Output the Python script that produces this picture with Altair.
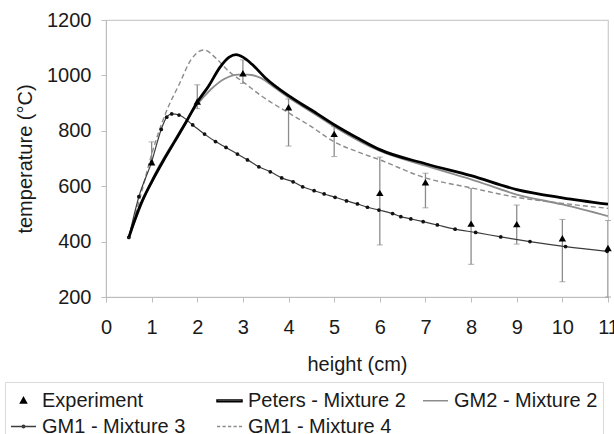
import altair as alt
import pandas as pd

FONT = "Liberation Sans"

# ---- data ----
exp_x = [1, 2, 3, 4, 5, 6, 7, 8, 9, 10, 11]
exp_y = [686, 906, 1008, 885, 789, 576, 614, 465, 463, 412, 377]
exp_hi = [760, 966, 1056, 915, 815, 705, 647, 592, 532, 480, 476]
exp_lo = [680, 880, 971, 745, 707, 388, 522, 318, 391, 255, 200]

peters_x = [0.5, 0.75, 1.0, 1.25, 1.5, 1.75, 2.0, 2.25, 2.5, 2.7, 2.85, 3.0, 3.2, 3.5, 4.0, 4.5, 5.0, 5.5, 6, 7, 8, 9, 10, 11]
peters_y = [415, 530, 615, 690, 760, 830, 903, 962, 1030, 1066, 1075, 1066, 1040, 990, 927, 875, 822, 775, 732, 681, 638, 588, 558, 535]

gm2_x = [0.5, 1.0, 1.5, 2.0, 2.3, 2.6, 2.9, 3.1, 3.4, 3.7, 4.0, 4.5, 5, 6, 7, 8, 9, 10, 11]
gm2_y = [415, 620, 765, 895, 950, 988, 1003, 1003, 990, 955, 920, 868, 815, 727, 674, 625, 570, 534, 492]

gm13_x = [0.5, 0.72, 1.0, 1.21, 1.33, 1.44, 1.6, 1.9, 2.16, 2.4, 2.63, 2.88, 3.1, 3.35, 3.6, 3.85, 4.1, 4.31, 4.56, 4.78,
          5.02, 5.27, 5.51, 5.73, 5.98, 6.28, 6.46, 6.68, 6.95, 7.26, 7.65, 8.1, 8.65, 9.29, 10.07, 10.98]
gm13_y = [415, 562, 688, 805, 849, 861, 857, 821, 788, 761, 740, 716, 695, 670, 652, 630, 616, 598, 584, 572,
          560, 547, 536, 524, 514, 501, 490, 482, 472, 460, 445, 433, 417, 400, 382, 365]

gm14_x = [0.5, 0.75, 1.0, 1.32, 1.61, 1.86, 2.15, 2.41, 2.7, 3.0, 3.43, 4.0, 4.5, 5, 5.5, 6, 7, 8, 9, 10, 11]
gm14_y = [415, 560, 715, 869, 970, 1056, 1092, 1062, 1013, 977, 923, 865, 815, 760, 725, 695, 630, 594, 560, 538, 520]

series_names = ["Experiment", "Peters - Mixture 2", "GM2 - Mixture 2", "GM1 - Mixture 3", "GM1 - Mixture 4"]

exp_df = pd.DataFrame({"x": exp_x, "y": exp_y, "lo": exp_lo, "hi": exp_hi})

frames = []
for name, xs, ys in [
    ("Peters - Mixture 2", peters_x, peters_y),
    ("GM2 - Mixture 2", gm2_x, gm2_y),
    ("GM1 - Mixture 3", gm13_x, gm13_y),
    ("GM1 - Mixture 4", gm14_x, gm14_y),
]:
    frames.append(pd.DataFrame({"x": xs, "y": ys, "series": name}))
lines_df = pd.concat(frames, ignore_index=True)

X = alt.X("x:Q", scale=alt.Scale(domain=[0, 11], nice=False, zero=False),
          axis=alt.Axis(title="height (cm)", values=list(range(0, 12)), labelFlush=False))
Y = alt.Y("y:Q", scale=alt.Scale(domain=[200, 1200], nice=False, zero=False),
          axis=alt.Axis(title="temperature (°C)", values=list(range(200, 1300, 100)), format="d"))

base_lines = alt.Chart(lines_df)


def line_layer(name, color, width, dash=None):
    kw = dict(color=color, strokeWidth=width, interpolate="monotone", clip=True)
    if dash:
        kw["strokeDash"] = dash
    return base_lines.transform_filter(alt.datum.series == name).mark_line(**kw).encode(x=X, y=Y)


l_gm14 = line_layer("GM1 - Mixture 4", "#8c8c8c", 1.4, [5, 3])
l_gm13 = line_layer("GM1 - Mixture 3", "#3c3c3c", 1.2)
l_gm2 = line_layer("GM2 - Mixture 2", "#8c8c8c", 1.8)
l_pet = line_layer("Peters - Mixture 2", "#000000", 2.8)

dots = base_lines.transform_filter(alt.datum.series == "GM1 - Mixture 3").mark_circle(
    color="#111111", size=14, opacity=1).encode(x=X, y=Y)

ebar = alt.Chart(exp_df).mark_rule(color="#8c8c8c", strokeWidth=1.3, clip=True).encode(
    x=X, y="lo:Q", y2="hi:Q")
cap_lo = alt.Chart(exp_df).mark_tick(color="#8c8c8c", orient="horizontal", size=6, thickness=1).encode(
    x=X, y="lo:Q")
cap_hi = alt.Chart(exp_df).mark_tick(color="#8c8c8c", orient="horizontal", size=6, thickness=1).encode(
    x=X, y="hi:Q")
tri = alt.Chart(exp_df).mark_point(shape="triangle-up", filled=True, color="#000000", size=55, opacity=1).encode(
    x=X, y=Y)

shape_paths = [
    "M0,-0.26L0.24,0.18L-0.24,0.18ZM0,-0.12L0.12,0.12L-0.12,0.12ZM0,0L0.04,0.08L-0.04,0.08Z",
    "M-1,-0.07L1,-0.07L1,0.07L-1,0.07Z",
    "M-1,0L1,0",
    "M-1,0L1,0M-0.1,0A0.1,0.1,0,1,1,0.1,0A0.1,0.1,0,1,1,-0.1,0",
    "M-1,0L-0.74,0M-0.56,0L-0.3,0M-0.12,0L0.14,0M0.32,0L0.58,0M0.76,0L1,0",
]
legend_colors = ["#000000", "#000000", "#8c8c8c", "#3c3c3c", "#8c8c8c"]

leg = alt.Legend(
    title=None, orient="none", legendX=-101, legendY=362, direction="horizontal", columns=3,
    labelFont=FONT, labelFontSize=20, labelColor="#1a1a1a", symbolSize=625, symbolStrokeWidth=1.5,
    strokeColor="#dadada", padding=5, rowPadding=2, columnPadding=14,
    labelOffset=5, gridAlign="all", symbolOpacity=1,
)

legend_layer = alt.Chart(lines_df).transform_filter("false").mark_point(filled=False).encode(
    x=X, y=Y,
    shape=alt.Shape("series:N", scale=alt.Scale(domain=series_names, range=shape_paths), legend=leg),
    color=alt.Color("series:N", scale=alt.Scale(domain=series_names, range=legend_colors), legend=leg),
)

chart = alt.layer(
    ebar, cap_lo, cap_hi, l_gm14, l_gm13, dots, l_gm2, l_pet, tri, legend_layer
).properties(
    width=502, height=277,
    autosize=alt.AutoSizeParams(type="none"),
    padding={"left": 106, "top": 20, "right": 6, "bottom": 137},
).configure_view(
    stroke="#cccccc", strokeWidth=1.2
).configure_axis(
    labelFont=FONT, titleFont=FONT, labelFontSize=20, titleFontSize=20,
    labelColor="#1a1a1a", titleColor="#1a1a1a", titleFontWeight="normal",
    domainColor="#bdbdbd", tickColor="#bdbdbd", tickSize=5, grid=False,
).configure_axisX(
    labelPadding=15, titlePadding=17,
).configure_axisY(
    labelPadding=10, titlePadding=11,
)

chart.save("out.html", embed_options={"renderer": "svg", "actions": False})
